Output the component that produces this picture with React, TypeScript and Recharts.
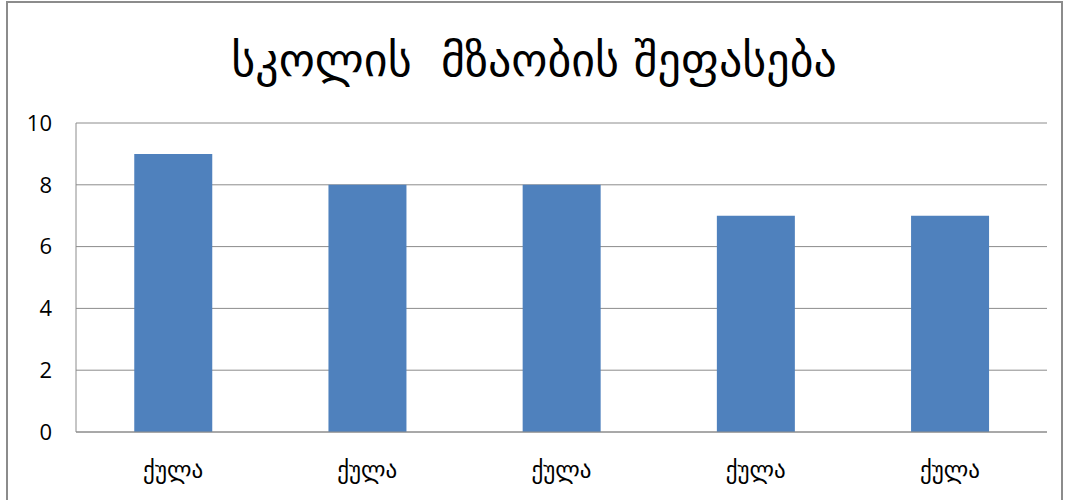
import { Bar, BarChart, CartesianGrid, XAxis, YAxis } from "recharts";

const categories = ["ქულა", "ქულა", "ქულა", "ქულა", "ქულა"];
const scores = [9, 8, 8, 7, 7];
const yTicks = [0, 2, 4, 6, 8, 10];

const chartTitle = "სკოლის  მზაობის შეფასება";

const data = categories.map((name, i) => ({ id: i, name, score: scores[i] }));

export default function App() {
  return (
    <div
      style={{
        position: "absolute",
        left: 0,
        top: 0,
        width: 1068,
        height: 500,
        background: "#fff",
        overflow: "hidden",
      }}
    >
      {/* chart title */}
      <div
        style={{
          position: "absolute",
          top: 33,
          left: 0,
          width: 1068,
          textAlign: "center",
          fontFamily: "'DejaVu Sans', sans-serif",
          fontSize: 46,
          color: "#000",
          whiteSpace: "pre",
        }}
      >
        {chartTitle}
      </div>
      <div style={{ position: "absolute", left: 0, top: 0 }}>
        <BarChart
          width={1068}
          height={500}
          data={data}
          margin={{ top: 123, right: 21, bottom: 0, left: 0 }}
          barCategoryGap="30%"
        >
          <CartesianGrid vertical={false} stroke="#8c8c8c" strokeWidth={1} />
          <XAxis
            dataKey="id"
            tickFormatter={(i: number) => categories[i]}
            axisLine={{ stroke: "#8c8c8c" }}
            tickLine={false}
            tickMargin={24}
            height={68}
            tick={{
              fill: "#000",
              fontSize: 23,
              fontFamily: "'DejaVu Sans', sans-serif",
            }}
          />
          <YAxis
            width={76}
            domain={[0, 10]}
            ticks={yTicks}
            axisLine={{ stroke: "#8c8c8c" }}
            tickLine={false}
            tickSize={0}
            tickMargin={24}
            tick={{
              fill: "#000",
              fontSize: 22,
              fontFamily: "'Open Sans', sans-serif",
            }}
          />
          <Bar dataKey="score" fill="#4f81bd" isAnimationActive={false} />
        </BarChart>
      </div>
      {/* frame of the chart area */}
      <div
        style={{
          position: "absolute",
          left: 6,
          top: 1,
          width: 1057,
          height: 520,
          border: "2px solid #8c8c8c",
          boxSizing: "border-box",
          pointerEvents: "none",
        }}
      />
    </div>
  );
}
